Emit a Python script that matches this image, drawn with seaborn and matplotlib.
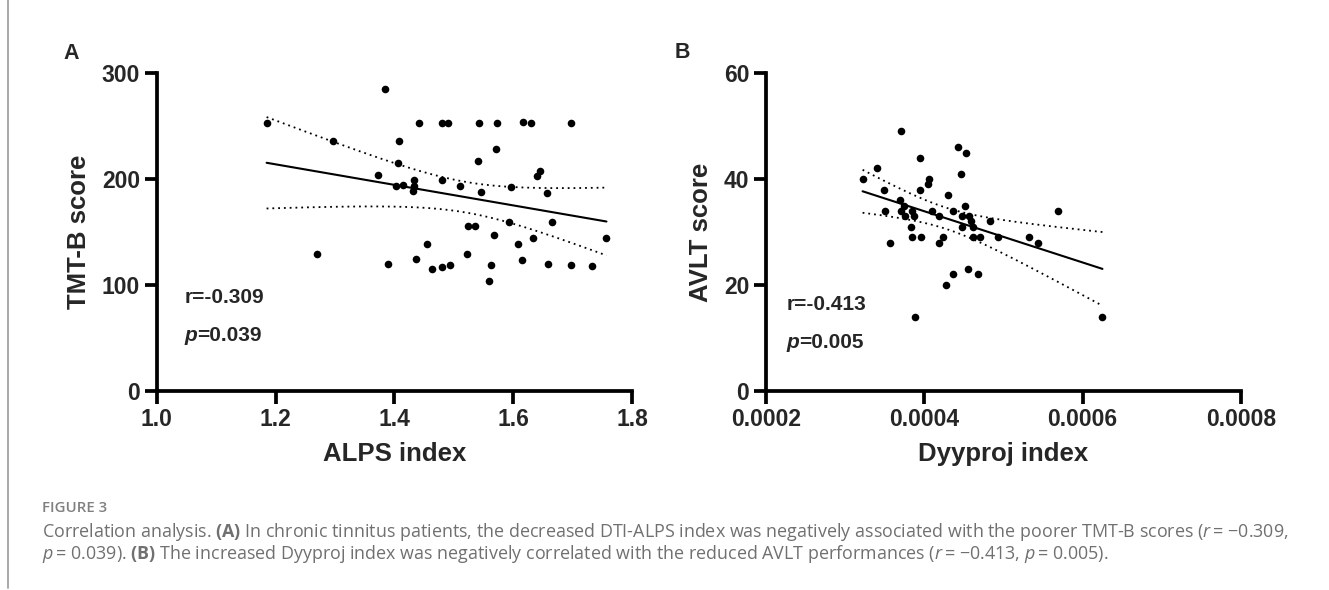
import numpy as np
import pandas as pd
import seaborn as sns
from matplotlib import pyplot as plt
from matplotlib.lines import Line2D

# panel A: ALPS index vs TMT-B score
alps_index = [1.185, 1.269, 1.297, 1.373, 1.385, 1.390, 1.403, 1.406, 1.408, 1.414,
              1.433, 1.433, 1.432, 1.436, 1.441, 1.455, 1.464, 1.480, 1.491, 1.480,
              1.481, 1.494, 1.511, 1.523, 1.524, 1.535, 1.540, 1.542, 1.546, 1.560,
              1.563, 1.568, 1.571, 1.572, 1.593, 1.597, 1.608, 1.615, 1.617, 1.630,
              1.633, 1.640, 1.645, 1.657, 1.658, 1.665, 1.697, 1.698, 1.733, 1.757]
tmtb_score = [253, 129, 236, 204, 285, 120, 193, 215, 236, 194,
              199, 193, 189, 125, 253, 139, 115, 253, 253, 199,
              117, 119, 193, 129, 156, 156, 217, 253, 188, 104,
              119, 147, 228, 253, 159, 192, 139, 124, 254, 253,
              144, 203, 208, 187, 120, 159, 119, 253, 118, 144]

# panel B: Dyyproj index vs AVLT score
dyyproj_index = [0.000322, 0.000340, 0.000370, 0.000349, 0.000350, 0.000357, 0.000369, 0.000371,
                 0.000374, 0.000376, 0.000384, 0.000387, 0.000383, 0.000384, 0.000396, 0.000395,
                 0.000394, 0.000404, 0.000406, 0.000388, 0.000410, 0.000419, 0.000418, 0.000423,
                 0.000430, 0.000436, 0.000427, 0.000436, 0.000443, 0.000452, 0.000446, 0.000451,
                 0.000448, 0.000448, 0.000456, 0.000459, 0.000461, 0.000462, 0.000470, 0.000455,
                 0.000468, 0.000483, 0.000493, 0.000532, 0.000543, 0.000569, 0.000625]
avlt_score = [40, 42, 49, 38, 34, 28, 36, 34, 35, 33, 34, 33, 31, 29, 29, 44,
              38, 39, 40, 14, 34, 33, 28, 29, 37, 34, 20, 22, 46, 45, 41, 35,
              33, 31, 33, 32, 31, 29, 29, 23, 22, 32, 29, 29, 28, 34, 14]

a_xticks = [1.0, 1.2, 1.4, 1.6, 1.8]
a_xticklabels = ["1.0", "1.2", "1.4", "1.6", "1.8"]
a_yticks = [0, 100, 200, 300]
b_xticks = [0.0002, 0.0004, 0.0006, 0.0008]
b_xticklabels = ["0.0002", "0.0004", "0.0006", "0.0008"]
b_yticks = [0, 20, 40, 60]

stats_a = ("-0.309", "0.039")
stats_b = ("-0.413", "0.005")

sns.set_style("ticks")
plt.rcParams['font.family'] = ['Liberation Sans', 'DejaVu Sans']
plt.rcParams['mathtext.fontset'] = 'custom'
plt.rcParams['mathtext.rm'] = 'Open Sans'
plt.rcParams['mathtext.it'] = 'Open Sans:italic'
plt.rcParams['mathtext.bf'] = 'Open Sans:bold'

T_CRIT = 2.01  # ~95% two-sided, df around 45


def conf_band(ax, x, y):
    x = np.asarray(x, dtype=float)
    y = np.asarray(y, dtype=float)
    n = len(x)
    slope, icpt = np.polyfit(x, y, 1)
    grid = np.linspace(x.min(), x.max(), 200)
    resid = y - (slope * x + icpt)
    s = np.sqrt((resid ** 2).sum() / (n - 2))
    se = s * np.sqrt(1 / n + (grid - x.mean()) ** 2 / ((x - x.mean()) ** 2).sum())
    fit = slope * grid + icpt
    for sign in (1, -1):
        ax.plot(grid, fit + sign * T_CRIT * se, color="black", lw=1.3,
                ls=(0, (1, 2.2)), zorder=2)


def panel(ax, df, xcol, ycol, xlim, ylim, xticks, xticklabels, yticks, stats, txt_pos):
    sns.regplot(data=df, x=xcol, y=ycol, ax=ax, ci=None, truncate=True,
                scatter_kws=dict(s=30, color="black", alpha=1, linewidths=0, zorder=3),
                line_kws=dict(color="black", lw=1.5, zorder=2))
    conf_band(ax, df[xcol], df[ycol])
    ax.set_xlim(*xlim)
    ax.set_ylim(*ylim)
    ax.set_xticks(xticks, xticklabels)
    ax.set_yticks(yticks)
    sns.despine(ax=ax)
    for sp in ("left", "bottom"):
        ax.spines[sp].set_linewidth(2.7)
        ax.spines[sp].set_color("black")
    ax.tick_params(width=2.7, length=9, labelsize=16.5, pad=3, color="black")
    for lbl in ax.get_xticklabels() + ax.get_yticklabels():
        lbl.set_fontweight("bold")
    ax.set_xlabel(xcol, fontsize=18.5, fontweight="bold", labelpad=8)
    ax.set_ylabel(ycol, fontsize=18.5, fontweight="bold", labelpad=8)
    (rx, ry), (px, py) = txt_pos
    ax.text(rx, ry, "r=" + stats[0], transform=ax.transAxes, fontsize=15,
            fontweight="bold", va="baseline")
    p = ax.text(px, py, "p", transform=ax.transAxes, fontsize=15,
                fontweight="bold", style="italic", va="baseline")
    ax.annotate("=" + stats[1], xy=(1, 0), xycoords=p, fontsize=15,
                fontweight="bold", va="bottom", ha="left")


fig = plt.figure(figsize=(13.29, 5.9), dpi=100)
W, H = 1329, 590
ax_a = fig.add_axes([156.7 / W, 1 - 391 / H, 475.3 / W, 318 / H])
ax_b = fig.add_axes([766 / W, 1 - 391 / H, 475.0 / W, 318 / H])

df_a = pd.DataFrame({"ALPS index": alps_index, "TMT-B score": tmtb_score})
df_b = pd.DataFrame({"Dyyproj index": dyyproj_index, "AVLT score": avlt_score})

panel(ax_a, df_a, "ALPS index", "TMT-B score", (1.0, 1.8), (0, 300),
      a_xticks, a_xticklabels, a_yticks, stats_a, ((0.059, 0.277), (0.059, 0.157)))
panel(ax_b, df_b, "Dyyproj index", "AVLT score", (0.0002, 0.0008), (0, 60),
      b_xticks, b_xticklabels, b_yticks, stats_b, ((0.043, 0.255), (0.043, 0.135)))

fig.text(71.5 / W, 1 - 53.5 / H, "A", fontsize=15.5, fontweight="bold", ha="center", va="center")
fig.text(682.5 / W, 1 - 52 / H, "B", fontsize=15.5, fontweight="bold", ha="center", va="center")

# journal page margin line
fig.add_artist(Line2D([7.5 / W, 7.5 / W], [1 - 588 / H, 1.0], color="#9a9a9a", lw=1.2))

cap_font = ['Open Sans', 'DejaVu Sans']
fig.text(42 / W, 1 - 512 / H, "FIGURE 3", fontsize=10.8, color="#808080",
         family=cap_font, fontweight="semibold", va="baseline")
line1 = ("Correlation analysis. $\\mathbf{(A)}$ In chronic tinnitus patients, the decreased DTI-ALPS index "
         "was negatively associated with the poorer TMT-B scores ($r$\u2009= \u22120.309,")
line2 = ("$p$\u2009= 0.039). $\\mathbf{(B)}$ The increased Dyyproj index was negatively correlated "
         "with the reduced AVLT performances ($r$\u2009= \u22120.413, $p$\u2009= 0.005).")
fig.text(42 / W, 1 - 537 / H, line1, fontsize=12.85, color="#707070", family=cap_font, va="baseline")
fig.text(42 / W, 1 - 559 / H, line2, fontsize=12.85, color="#707070", family=cap_font, va="baseline")

fig.savefig("out.png", dpi=100)
